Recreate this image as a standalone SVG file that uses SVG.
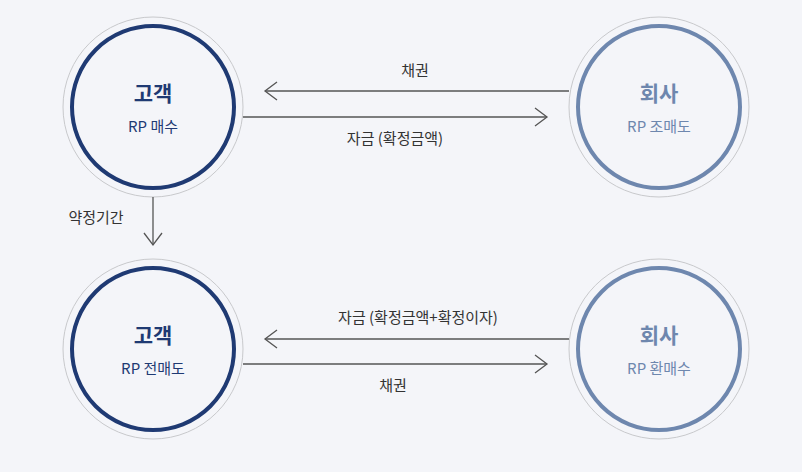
<svg xmlns="http://www.w3.org/2000/svg" width="802" height="472" viewBox="0 0 802 472">
<style>
text{font-family:"Noto Sans CJK KR","Noto Sans",sans-serif;text-anchor:middle}
.o{fill:#f4f5f9;stroke:#c8c9cc;stroke-width:1}
.a{fill:none;stroke:#1f3a73;stroke-width:4}
.b{fill:none;stroke:#6e87ae;stroke-width:4}
.t{font-size:21px;font-weight:bold}
.s{font-size:15px}
.ln{stroke:#555;stroke-width:1.3;fill:none}
.l{font-size:15px;fill:#333}
</style>
<defs><marker id="h" markerWidth="16" markerHeight="20" refX="14" refY="10" orient="auto" markerUnits="userSpaceOnUse"><path d="M2,1 L14,10 L2,19" fill="none" stroke="#555" stroke-width="1.3"/></marker></defs>
<rect width="802" height="472" fill="#f4f5f9"/>
<g id="c1"><circle class="o" cx="153" cy="107" r="90"/><circle class="a" cx="153" cy="107" r="81"/><text class="t" x="153" y="101" fill="#1f3a73">고객</text><text class="s" x="153" y="132" fill="#1f3a73">RP 매수</text></g>
<g id="f1"><circle class="o" cx="659" cy="107" r="90"/><circle class="b" cx="659" cy="107" r="81"/><text class="t" x="659" y="101" fill="#6e87ae">회사</text><text class="s" x="659" y="132" fill="#6e87ae">RP 조매도</text></g>
<g id="c2"><circle class="o" cx="153" cy="349" r="90"/><circle class="a" cx="153" cy="349" r="81"/><text class="t" x="153" y="343" fill="#1f3a73">고객</text><text class="s" x="153" y="374" fill="#1f3a73">RP 전매도</text></g>
<g id="f2"><circle class="o" cx="659" cy="349" r="90"/><circle class="b" cx="659" cy="349" r="81"/><text class="t" x="659" y="343" fill="#6e87ae">회사</text><text class="s" x="659" y="374" fill="#6e87ae">RP 환매수</text></g>
<g id="connectors">
<line class="ln" x1="569" y1="91" x2="265" y2="91" marker-end="url(#h)"/>
<line class="ln" x1="243" y1="117" x2="547" y2="117" marker-end="url(#h)"/>
<line class="ln" x1="153" y1="197" x2="153" y2="245" marker-end="url(#h)"/>
<line class="ln" x1="569" y1="339" x2="265" y2="339" marker-end="url(#h)"/>
<line class="ln" x1="243" y1="364" x2="547" y2="364" marker-end="url(#h)"/>
<text class="l" x="415" y="76">채권</text>
<text class="l" x="395" y="144">자금 (확정금액)</text>
<text class="l" x="96" y="223">약정기간</text>
<text class="l" x="418" y="323">자금 (확정금액+확정이자)</text>
<text class="l" x="393" y="391">채권</text>
</g>
</svg>
